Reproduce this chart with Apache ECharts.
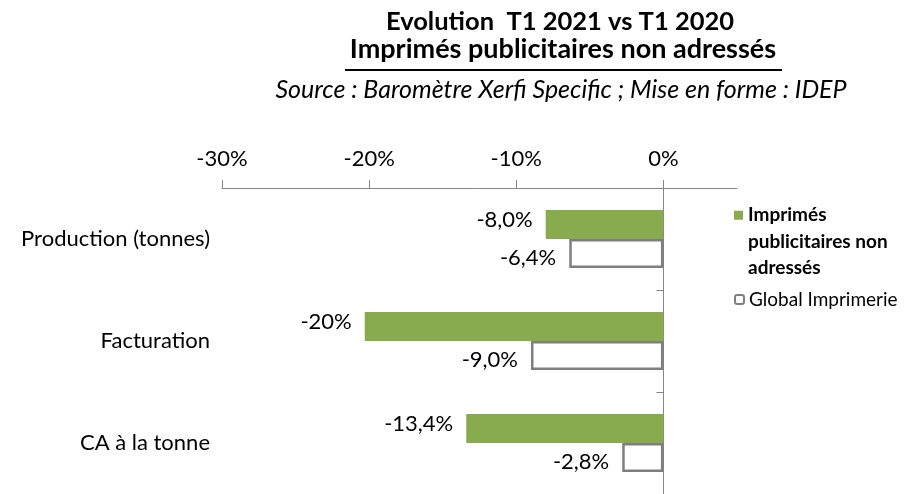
<!DOCTYPE html>
<html>
<head>
<meta charset="utf-8">
<script src="https://cdn.jsdelivr.net/npm/echarts@6/dist/echarts.min.js"></script>
<style>
html,body{margin:0;padding:0;background:#fff;}
#chart{width:909px;height:494px;}
</style>
</head>
<body>
<div id="chart"></div>
<script>
const categories = ['Production (tonnes)', 'Facturation', 'CA à la tonne'];
const imprimesValues = [-8.0, -20.3, -13.4];
const imprimesLabels = ['-8,0%', '-20%', '-13,4%'];
const globalValues = [-6.4, -9.0, -2.8];
const globalLabels = ['-6,4%', '-9,0%', '-2,8%'];
const tickValues = [-30, -20, -10, 0];
const seriesNames = ['Imprimés publicitaires non adressés', 'Global Imprimerie'];

const FONT = 'Lato';
const chart = echarts.init(document.getElementById('chart'), null, {renderer: 'canvas'});

chart.setOption({
  animation: false,
  backgroundColor: '#ffffff',
  textStyle: {fontFamily: FONT},
  title: [
    {text: 'Evolution  T1 2021 vs T1 2020', left: 560, top: 9, padding: 0, textAlign: 'center',
     textStyle: {fontFamily: FONT, fontWeight: 'bold', fontSize: 25.5, color: '#000'}},
    {text: 'Imprimés publicitaires non adressés', left: 563, top: 36, padding: 0, textAlign: 'center',
     textStyle: {fontFamily: FONT, fontWeight: 'bold', fontSize: 27, color: '#000'}},
    {text: 'Source : Baromètre Xerfi Specific ; Mise en forme : IDEP', left: 561, top: 77, padding: 0, textAlign: 'center',
     textStyle: {fontFamily: FONT, fontStyle: 'italic', fontWeight: 'normal', fontSize: 25, color: '#000'}}
  ],
  graphic: [
    {type: 'line', shape: {x1: 345, y1: 70, x2: 782, y2: 70}, style: {stroke: '#000', lineWidth: 2}}
  ],
  legend: [
    {data: [{name: seriesNames[0], icon: 'path://M0,0h9v9h-9z M0,62h0.01v0.01h-0.01z'}],
     left: 734, top: 202, padding: 0, itemWidth: 9, itemHeight: 62,
     formatter: () => 'Imprimés\npublicitaires non\nadressés',
     textStyle: {fontFamily: FONT, fontWeight: 'bold', fontSize: 19, color: '#000', lineHeight: 26.5}},
    {data: [seriesNames[1]], left: 734, top: 290, padding: 0, itemWidth: 9, itemHeight: 9,
     textStyle: {fontFamily: FONT, fontSize: 19, color: '#000'}}
  ],
  grid: {left: 222, right: 172, top: 188, height: 309, containLabel: false},
  xAxis: {
    type: 'value', position: 'top', min: -30, max: 5, interval: 10,
    axisLine: {show: true, onZero: false, lineStyle: {color: '#868686', width: 1}},
    axisTick: {show: true, length: 8, customValues: tickValues, lineStyle: {color: '#868686'}},
    axisLabel: {customValues: tickValues, formatter: v => v + '%', fontFamily: FONT, fontSize: 22, color: '#000', margin: 18},
    splitLine: {show: false}
  },
  yAxis: [
    {type: 'category', data: categories, inverse: true, position: 'left',
     axisLine: {show: false, onZero: false}, axisTick: {show: false},
     axisLabel: {fontFamily: FONT, fontSize: 22, color: '#000', margin: 12}},
    {type: 'category', data: categories, inverse: true, position: 'left',
     axisLine: {show: true, onZero: true, lineStyle: {color: '#868686', width: 1}},
     axisTick: {show: true, length: 7, lineStyle: {color: '#868686'}},
     axisLabel: {show: false}}
  ],
  series: [
    {name: seriesNames[0], type: 'bar', yAxisIndex: 0, data: imprimesValues, barWidth: 29, barGap: '0%',
     itemStyle: {color: '#88ab4e'},
     label: {show: true, position: 'left', distance: 13, offset: [0, -5], fontFamily: FONT, fontSize: 22, color: '#000',
             formatter: p => imprimesLabels[p.dataIndex]}},
    {name: seriesNames[1], type: 'bar', yAxisIndex: 0, data: globalValues, barWidth: 29, barGap: '0%',
     itemStyle: {color: '#ffffff', borderColor: '#7f7f7f', borderWidth: 2.5},
     label: {show: true, position: 'left', distance: 13, offset: [0, 4], fontFamily: FONT, fontSize: 22, color: '#000',
             formatter: p => globalLabels[p.dataIndex]}}
  ]
});
</script>
</body>
</html>
